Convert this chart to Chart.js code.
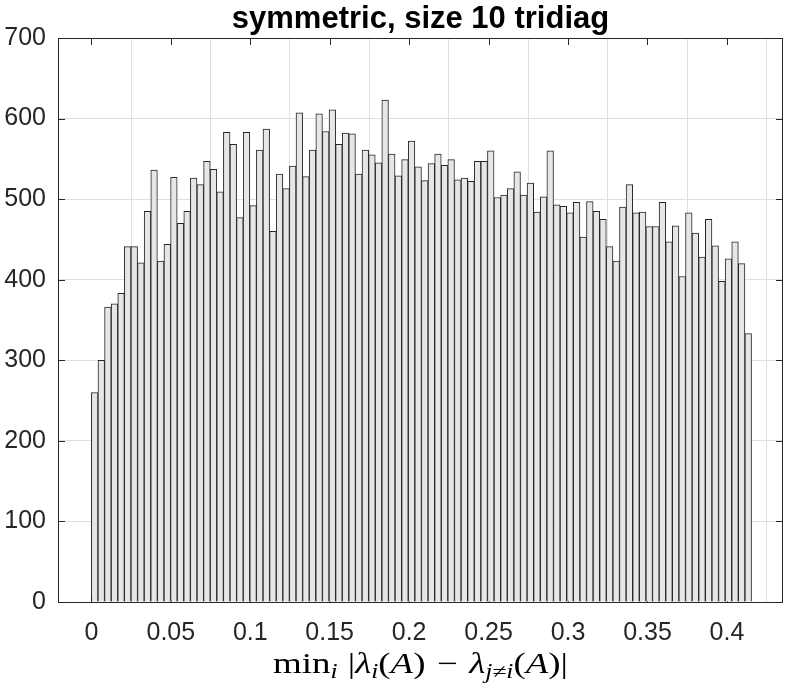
<!DOCTYPE html>
<html>
<head>
<meta charset="utf-8">
<script src="https://cdn.jsdelivr.net/npm/chart.js@4.4.1/dist/chart.umd.min.js"></script>
<style>
  html, body { margin: 0; padding: 0; background: #fff; }
  canvas { display: block; }
</style>
</head>
<body>
<canvas id="hist" width="788" height="691"></canvas>
<script>
'use strict';

// histogram data
const binStart = 0;
const binWidth = 0.004155;
const counts = [
  260, 300, 366, 370, 383, 441, 441, 421, 485, 536,
  423, 444, 527, 470, 485, 526, 518, 547, 537, 509,
  583, 568, 477, 583, 492, 561, 587, 460, 531, 513,
  541, 607, 528, 561, 606, 584, 611, 568, 582, 581,
  531, 561, 555, 545, 623, 556, 529, 549, 572, 540,
  523, 544, 556, 542, 549, 524, 526, 522, 547, 547,
  560, 502, 505, 513, 534, 505, 520, 484, 503, 560,
  493, 491, 483, 496, 453, 497, 485, 475, 441, 423,
  490, 518, 483, 484, 466, 466, 496, 447, 467, 404,
  483, 458, 428, 475, 442, 398, 426, 447, 420, 333
];

const xTicks = [0, 0.05, 0.1, 0.15, 0.2, 0.25, 0.3, 0.35, 0.4];
const xTickLabels = ['0', '0.05', '0.1', '0.15', '0.2', '0.25', '0.3', '0.35', '0.4'];
const yTicks = [0, 100, 200, 300, 400, 500, 600, 700];
const yTickLabels = ['0', '100', '200', '300', '400', '500', '600', '700'];
const xRange = [-0.021, 0.4353];

const titleText = 'symmetric, size 10 tridiag';
// min_i |λ_i(A) − λ_{j≠i}(A)|   (gap = extra math spacing before a piece)
const xLabelParts = [
  { t: 'min' }, { t: 'i', sub: true, it: true }, { t: '|', gap: 8 },
  { t: 'λ', it: true }, { t: 'i', sub: true, it: true }, { t: '(' },
  { t: 'A', it: true }, { t: ')' }, { t: '−', gap: 9 }, { t: 'λ', it: true, gap: 9 },
  { t: 'j≠i', sub: true, it: true }, { t: '(' }, { t: 'A', it: true }, { t: ')' }, { t: '|' }
];

const AXIS = '#262626';
const GRID = '#dfdfdf';
const TICK_FONT = { family: '"Liberation Sans", Arial, sans-serif', size: 25 };
const LABEL_WIDTH = 295;

const points = counts.map((c, i) => ({ x: binStart + (i + 0.5) * binWidth, y: c }));

function serif(part) {
  const size = part.sub ? 20 : 29;
  return (part.it ? 'italic ' : '') + size + 'px "Liberation Serif", "DejaVu Serif", serif';
}

const framePlugin = {
  id: 'frame',
  beforeDatasetsDraw(chart) {
    const { ctx, chartArea: a, scales } = chart;
    const len = 7;
    ctx.save();
    ctx.strokeStyle = AXIS;
    ctx.lineWidth = 1;
    ctx.beginPath();
    xTicks.forEach(v => {
      const x = Math.round(scales.x.getPixelForValue(v)) + 0.5;
      ctx.moveTo(x, a.bottom); ctx.lineTo(x, a.bottom - len);
      ctx.moveTo(x, a.top); ctx.lineTo(x, a.top + len);
    });
    yTicks.forEach(v => {
      const y = Math.round(scales.y.getPixelForValue(v)) + 0.5;
      ctx.moveTo(a.left, y); ctx.lineTo(a.left + len, y);
      ctx.moveTo(a.right, y); ctx.lineTo(a.right - len, y);
    });
    ctx.stroke();
    ctx.restore();
  },
  afterDraw(chart) {
    const { ctx, chartArea: a } = chart;
    const cx = (a.left + a.right) / 2;
    ctx.save();
    ctx.strokeStyle = AXIS;
    ctx.lineWidth = 1;
    ctx.strokeRect(Math.round(a.left) + 0.5, Math.round(a.top) + 0.5,
      Math.round(a.right - a.left) - 1, Math.round(a.bottom - a.top));

    // title
    ctx.fillStyle = '#000';
    ctx.font = 'bold 31px "Liberation Sans", Arial, sans-serif';
    ctx.textAlign = 'center';
    ctx.textBaseline = 'alphabetic';
    ctx.fillText(titleText, cx, 28);

    // x axis label, drawn piece by piece for the subscripts
    ctx.textAlign = 'left';
    let total = 0;
    xLabelParts.forEach(p => {
      ctx.font = serif(p);
      p.w = ctx.measureText(p.t).width;
      total += p.w + (p.gap || 0);
    });
    const sx = LABEL_WIDTH / total;
    const base = 673;
    ctx.translate(cx - LABEL_WIDTH / 2, 0);
    ctx.scale(sx, 1);
    let x = 0;
    xLabelParts.forEach(p => {
      x += p.gap || 0;
      ctx.font = serif(p);
      ctx.fillText(p.t, x, p.sub ? base + 5 : base);
      x += p.w;
    });
    ctx.restore();
  }
};

new Chart(document.getElementById('hist'), {
  type: 'bar',
  data: {
    datasets: [{
      data: points,
      backgroundColor: '#e6e6e6',
      borderColor: '#262626',
      borderWidth: 1,
      barPercentage: 1,
      categoryPercentage: 1
    }]
  },
  options: {
    responsive: false,
    animation: false,
    devicePixelRatio: 1,
    layout: { padding: { top: 38, right: 5, left: 0, bottom: 0 } },
    plugins: { legend: { display: false }, tooltip: { enabled: false }, title: { display: false } },
    scales: {
      x: {
        type: 'linear',
        offset: false,
        min: xRange[0],
        max: xRange[1],
        afterBuildTicks: s => { s.ticks = xTicks.map(v => ({ value: v })); },
        afterFit: s => { s.height = 89; },
        ticks: {
          autoSkip: false, maxRotation: 0, padding: 16, color: AXIS, font: TICK_FONT,
          callback: (v, i) => xTickLabels[i]
        },
        grid: { color: GRID, drawTicks: false },
        border: { display: false }
      },
      y: {
        min: 0,
        max: 700,
        afterBuildTicks: s => { s.ticks = yTicks.map(v => ({ value: v })); },
        afterFit: s => { s.width = 58; },
        ticks: {
          padding: 12, color: AXIS, font: TICK_FONT,
          callback: (v, i) => yTickLabels[i]
        },
        grid: { color: GRID, drawTicks: false },
        border: { display: false }
      }
    }
  },
  plugins: [framePlugin]
});
</script>
</body>
</html>
